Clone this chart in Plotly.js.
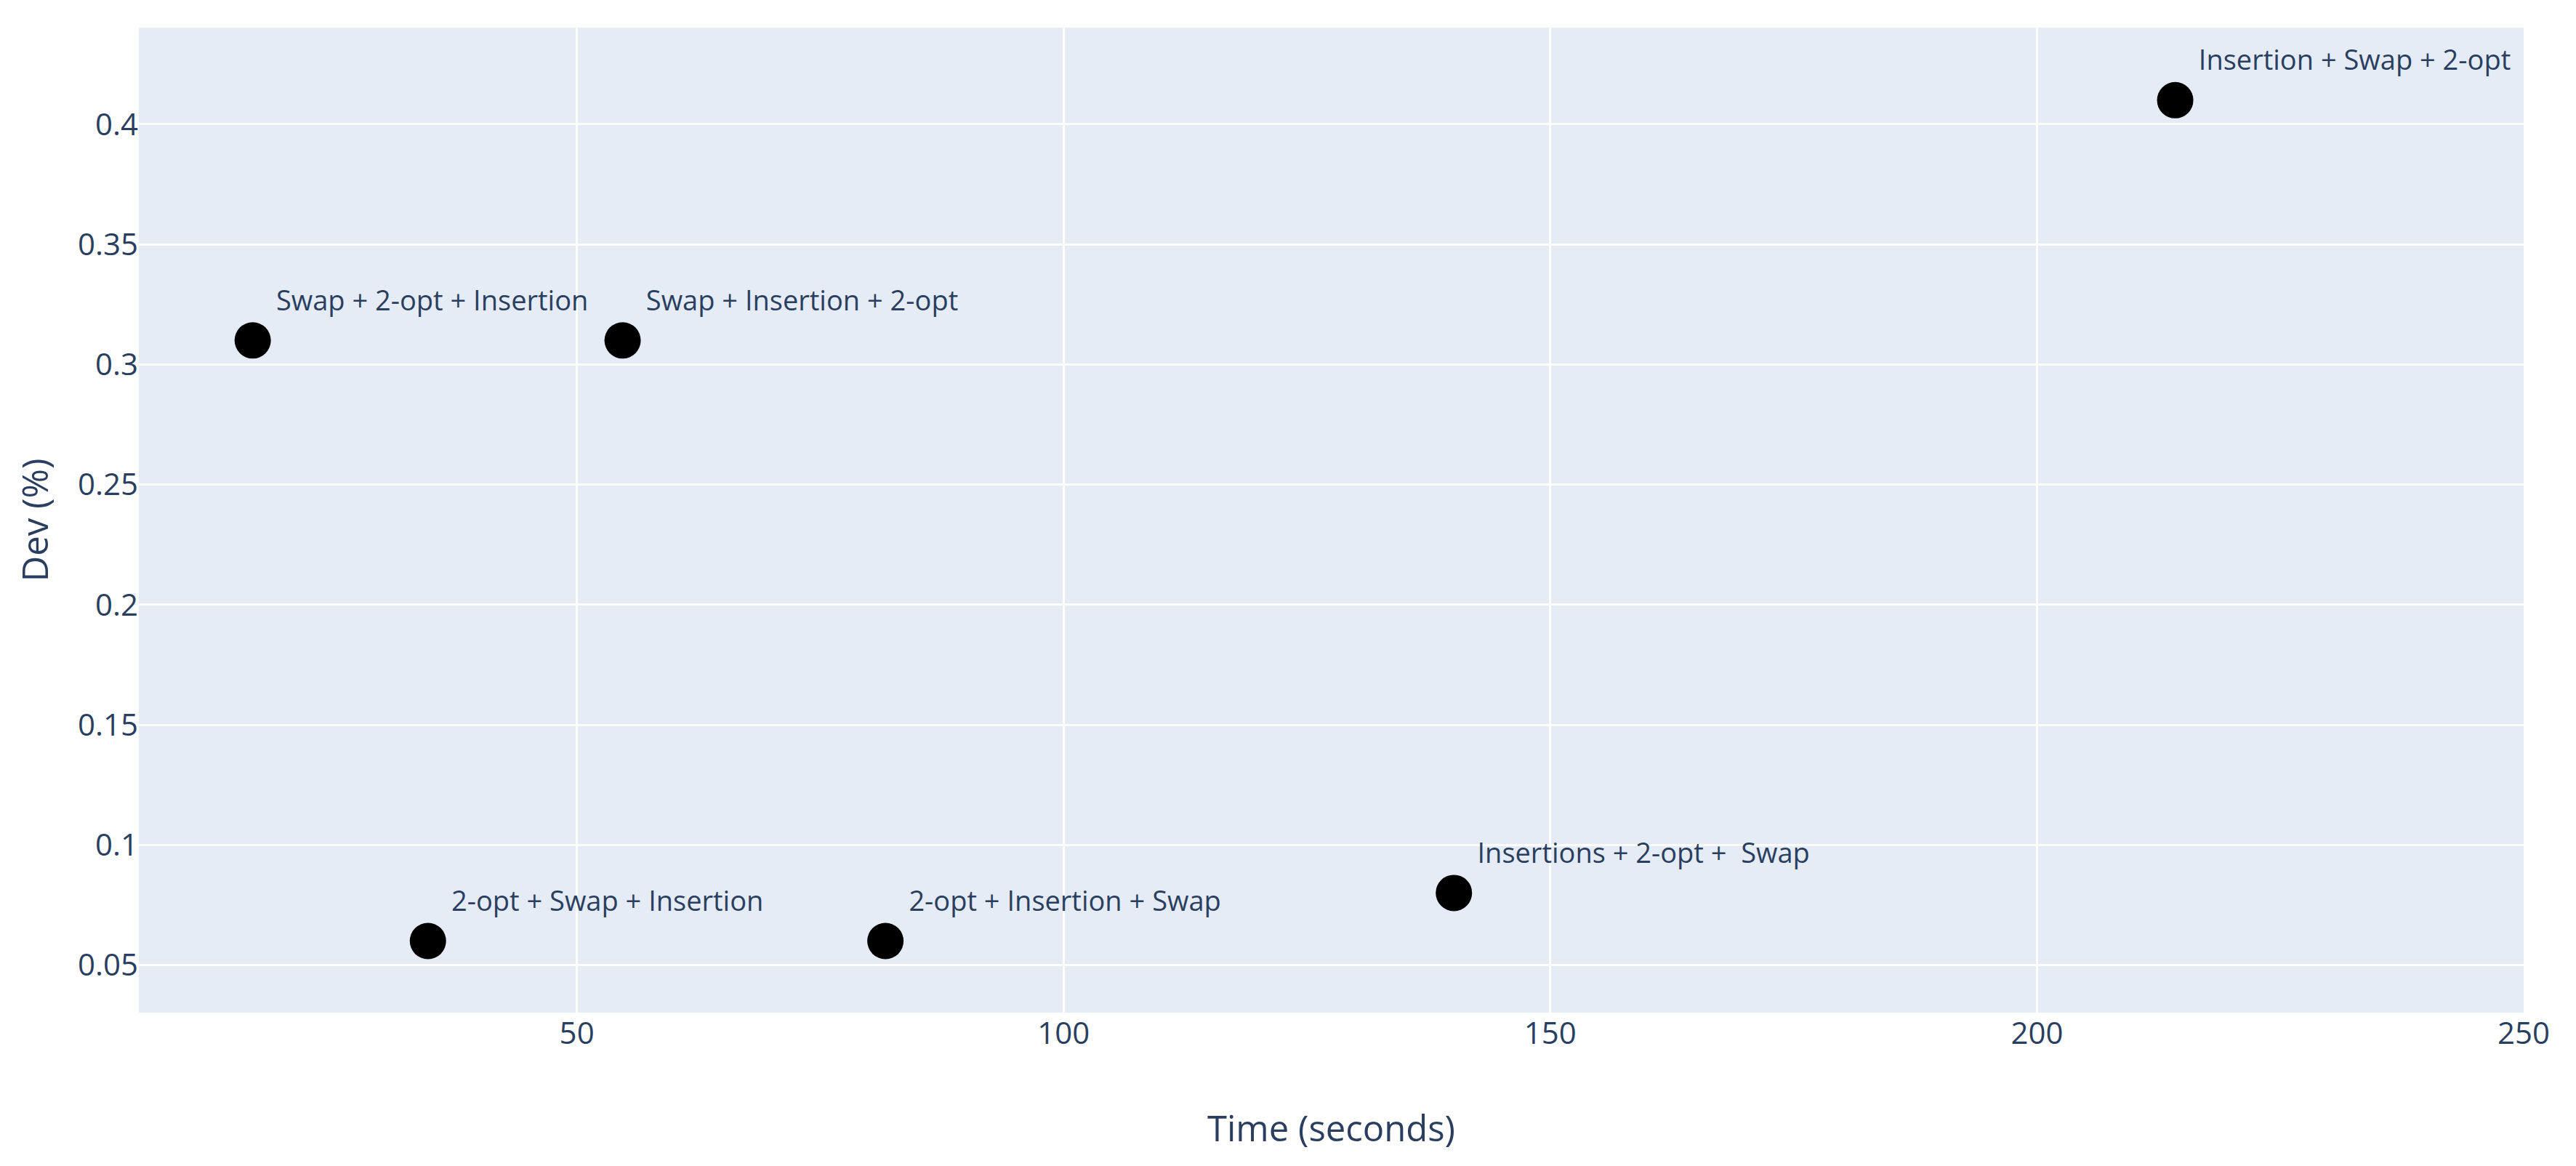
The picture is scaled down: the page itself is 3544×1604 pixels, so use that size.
<!DOCTYPE html>
<html>
<head>
<meta charset="utf-8">
<script src="https://cdn.plot.ly/plotly-3.0.1.min.js"></script>
<style>
  html, body { margin: 0; padding: 0; background: #fff; }
  #chart { width: 3544px; height: 1604px; }
</style>
</head>
<body>
<div id="chart"></div>
<script>
// time in seconds and deviation (%) for each neighbourhood order
var timeSec = [16.7, 34.7, 54.7, 81.7, 140.1, 214.2];
var devPct = [0.31, 0.06, 0.31, 0.06, 0.08, 0.41];
var labels = [
	'Swap + 2-opt + Insertion',
	'2-opt + Swap + Insertion',
	'Swap + Insertion + 2-opt',
	'2-opt + Insertion + Swap',
	'Insertions + 2-opt +  Swap',
	'Insertion + Swap + 2-opt'
];

var trace = {
	x: timeSec,
	y: devPct,
	text: labels,
	mode: 'markers+text',
	type: 'scatter',
	textposition: 'top right',
	textfont: {size: 38, color: '#2a3f5f'},
	marker: {size: 50, color: '#000000'},
	hoverinfo: 'x+y+text'
};

var layout = {
	width: 3544,
	height: 1604,
	font: {family: '"Open Sans", Verdana, Arial, sans-serif', size: 42, color: '#2a3f5f'},
	paper_bgcolor: '#ffffff',
	plot_bgcolor: '#E5ECF6',
	showlegend: false,
	margin: {l: 191, r: 72, t: 38, b: 211, pad: 0},
	xaxis: {
		title: {text: 'Time (seconds)', font: {size: 49}, standoff: 88},
		range: [5, 250],
		dtick: 50,
		gridcolor: '#ffffff',
		gridwidth: 3,
		zeroline: false,
		ticks: '',
		automargin: false
	},
	yaxis: {
		title: {text: 'Dev (%)', font: {size: 49}, standoff: 24},
		range: [0.0302, 0.4402],
		dtick: 0.05,
		gridcolor: '#ffffff',
		gridwidth: 3,
		zeroline: false,
		ticks: '',
		automargin: false
	}
};

var config = {responsive: false, displayModeBar: false};

Plotly.newPlot('chart', [trace], layout, config);
</script>
</body>
</html>
